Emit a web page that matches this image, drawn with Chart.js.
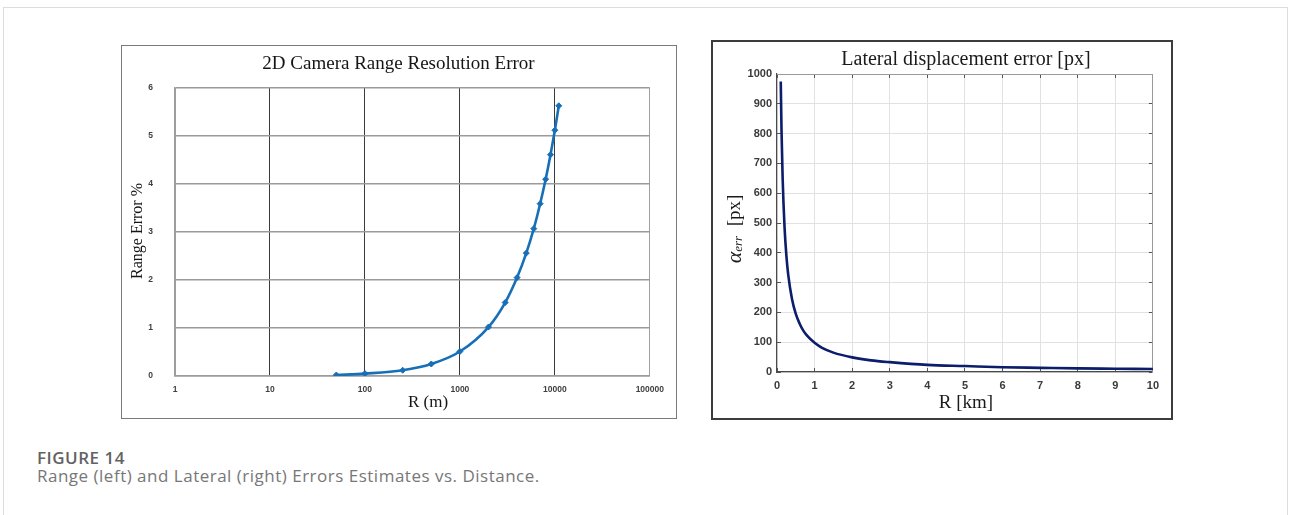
<!DOCTYPE html>
<html>
<head>
<meta charset="utf-8">
<title>Figure 14</title>
<script src="https://cdn.jsdelivr.net/npm/chart.js@4.4.1/dist/chart.umd.min.js"></script>
<style>
  body { margin: 0; background: #fff; }
  #page { position: relative; width: 1290px; height: 515px; overflow: hidden; background: #fff; }
  #frame { position: absolute; left: 3px; top: 7px; width: 1283px; height: 560px; border: 1px solid #dcdcdc; }
  .panel { position: absolute; box-sizing: border-box; background: #fff; }
  #left-panel { left: 121px; top: 45px; width: 556px; height: 374px; border: 1.5px solid #7a7a7a; }
  #right-panel { left: 711px; top: 40px; width: 462px; height: 380px; border: 2px solid #3c3c3c; }
  canvas { position: absolute; }
  #range-chart { left: 124px; top: 48px; }
  #lateral-chart { left: 714px; top: 43px; }
  .caption { position: absolute; left: 37px; font-family: "Open Sans", sans-serif; font-size: 17px; letter-spacing: 0.5px; line-height: 18px; white-space: nowrap; }
  #fig-no { top: 449px; font-weight: 600; color: #626262; }
  #fig-text { top: 467px; color: #777; }
</style>
</head>
<body>
<div id="page">
  <div id="frame"></div>
  <div class="panel" id="left-panel"></div>
  <div class="panel" id="right-panel"></div>
  <canvas id="range-chart" width="549" height="368" style="width:549px;height:368px"></canvas>
  <canvas id="lateral-chart" width="456" height="374" style="width:456px;height:374px"></canvas>
  <div class="caption" id="fig-no">FIGURE 14</div>
  <div class="caption" id="fig-text">Range (left) and Lateral (right) Errors Estimates vs. Distance.</div>
</div>

<script>
// Range error vs distance (log distance axis, metres)
const rangeDistances = [50, 100, 250, 500, 1000, 2000, 3000, 4000, 5000, 6000, 7000, 8000, 9000, 10000, 11000];
const rangeErrors = [0.02, 0.05, 0.12, 0.25, 0.51, 1.02, 1.53, 2.05, 2.56, 3.07, 3.59, 4.10, 4.61, 5.12, 5.63];
const rangeXTicks = [1, 10, 100, 1000, 10000, 100000];
const rangeYTicks = [0, 1, 2, 3, 4, 5, 6];

// Lateral displacement error vs distance (km)
const lateralDistances = [0.1, 0.12, 0.15, 0.2, 0.25, 0.3, 0.4, 0.5, 0.6, 0.7, 0.8, 1, 1.2, 1.5, 2, 2.5, 3, 4, 5, 6, 7, 8, 9, 10];
const lateralErrors = [975, 812, 650, 488, 390, 325, 244, 195, 163, 139, 122, 98, 81, 65, 49, 39, 33, 24, 20, 16, 14, 12, 11, 10];
const lateralXTicks = [0, 1, 2, 3, 4, 5, 6, 7, 8, 9, 10];
const lateralYTicks = [0, 100, 200, 300, 400, 500, 600, 700, 800, 900, 1000];

const serif = "'Liberation Serif', 'Times New Roman', serif";

// draws titles / axis titles; parts let a label mix fonts (subscripts)
const panelText = {
  id: "panelText",
  afterDraw(chart, args, opts) {
    const ctx = chart.ctx;
    (opts.items || []).forEach(item => {
      ctx.save();
      ctx.translate(item.x, item.y);
      if (item.rotate) ctx.rotate(item.rotate);
      ctx.fillStyle = item.color || "#111";
      ctx.textBaseline = "middle";
      ctx.textAlign = "left";
      const parts = item.parts || [{ text: item.text }];
      let total = 0;
      parts.forEach(p => {
        ctx.font = p.font || item.font;
        total += ctx.measureText(p.text).width;
      });
      let x = -total / 2;
      parts.forEach(p => {
        ctx.font = p.font || item.font;
        ctx.fillText(p.text, x, p.dy || 0);
        x += ctx.measureText(p.text).width;
      });
      ctx.restore();
    });
  }
};

function fixedTicks(values) {
  return scale => { scale.ticks = values.map(v => ({ value: v })); };
}

// Left: 2D camera range resolution error
new Chart(document.getElementById("range-chart"), {
  type: "line",
  plugins: [panelText],
  data: {
    datasets: [{
      data: rangeDistances.map((r, i) => ({ x: r, y: rangeErrors[i] })),
      borderColor: "#176fb8",
      backgroundColor: "#176fb8",
      borderWidth: 2.6,
      pointStyle: "rectRot",
      pointRadius: 3,
      pointBorderWidth: 1,
      cubicInterpolationMode: "monotone"
    }]
  },
  options: {
    responsive: false,
    animation: false,
    devicePixelRatio: 1,
    layout: { padding: { top: 40, right: 23, left: 0, bottom: 0 } },
    plugins: {
      legend: { display: false },
      tooltip: { enabled: false },
      panelText: {
        items: [
          { text: "2D Camera Range Resolution Error", x: 274.5, y: 16, font: "19px " + serif, color: "#151515" },
          { text: "Range Error %", x: 14, y: 183, rotate: -Math.PI / 2, font: "16px " + serif, color: "#151515" },
          { text: "R (m)", x: 304, y: 355, font: "17px " + serif, color: "#151515" }
        ]
      }
    },
    scales: {
      x: {
        type: "logarithmic",
        min: 1,
        max: 100000,
        afterBuildTicks: fixedTicks(rangeXTicks),
        afterFit: s => { s.height = 40; },
        ticks: {
          autoSkip: false,
          maxRotation: 0,
          padding: 9,
          color: "#404040",
          font: { family: "'Liberation Sans', sans-serif", size: 8.5, weight: "bold" },
          callback: v => String(v)
        },
        grid: {
          drawTicks: false,
          lineWidth: 1,
          color: c => (c.tick && (c.tick.value === 1 || c.tick.value === 100000)) ? "#a0a0a0" : "#3a3a3a"
        },
        border: { color: "#9c9c9c", width: 1.5 }
      },
      y: {
        min: 0,
        max: 6,
        afterBuildTicks: fixedTicks(rangeYTicks),
        afterFit: s => { s.width = 51; },
        ticks: {
          padding: 22,
          color: "#404040",
          font: { family: "'Liberation Sans', sans-serif", size: 8.5, weight: "bold" }
        },
        grid: { drawTicks: false, lineWidth: 1.6, color: "#9a9a9a" },
        border: { color: "#9c9c9c", width: 1.5 }
      }
    }
  }
});

// Right: lateral displacement error
const tickFont = { family: "'Liberation Sans', Arial, sans-serif", size: 11, weight: "bold" };

new Chart(document.getElementById("lateral-chart"), {
  type: "line",
  plugins: [panelText],
  data: {
    datasets: [{
      xAxisID: "x",
      yAxisID: "y",
      data: lateralDistances.map((r, i) => ({ x: r, y: lateralErrors[i] })),
      borderColor: "#0c1d6c",
      borderWidth: 2.6,
      pointRadius: 0,
      cubicInterpolationMode: "monotone"
    }]
  },
  options: {
    responsive: false,
    animation: false,
    devicePixelRatio: 1,
    layout: { padding: { top: 31, right: 15, left: 0, bottom: 0 } },
    plugins: {
      legend: { display: false },
      tooltip: { enabled: false },
      panelText: {
        items: [
          { text: "Lateral displacement error [px]", x: 252, y: 17, font: "20px " + serif, color: "#1a1a1a" },
          {
            x: 21, y: 186, rotate: -Math.PI / 2, color: "#1a1a1a",
            parts: [
              { text: "α", font: "italic 22px " + serif },
              { text: "err", font: "italic 13px " + serif, dy: 4 },
              { text: "  [px]", font: "19px " + serif }
            ]
          },
          { text: "R [km]", x: 252, y: 360, font: "19px " + serif, color: "#1a1a1a" }
        ]
      }
    },
    scales: {
      x: {
        type: "linear",
        min: 0,
        max: 10,
        afterBuildTicks: fixedTicks(lateralXTicks),
        afterFit: s => { s.height = 45; },
        ticks: { autoSkip: false, maxRotation: 0, padding: 11, color: "#3a3a3a", font: tickFont, callback: v => String(v) },
        grid: { color: "#e1e1e1", lineWidth: 1, tickLength: -4, tickColor: "#555" },
        border: { color: "#4a4a4a", width: 1.2 }
      },
      y: {
        type: "linear",
        min: 0,
        max: 1000,
        afterBuildTicks: fixedTicks(lateralYTicks),
        afterFit: s => { s.width = 63; },
        ticks: { padding: 9, color: "#3a3a3a", font: tickFont, callback: v => String(v) },
        grid: { color: "#e1e1e1", lineWidth: 1, tickLength: -4, tickColor: "#555" },
        border: { color: "#4a4a4a", width: 1.2 }
      },
      xTop: {
        axis: "x",
        type: "linear",
        position: "top",
        min: 0,
        max: 10,
        afterBuildTicks: fixedTicks(lateralXTicks),
        afterFit: s => { s.height = 0; },
        ticks: { display: false },
        grid: { drawOnChartArea: false, tickLength: -4, tickColor: "#555" },
        border: { color: "#9a9a9a", width: 1 }
      },
      yRight: {
        axis: "y",
        type: "linear",
        position: "right",
        min: 0,
        max: 1000,
        afterBuildTicks: fixedTicks(lateralYTicks),
        afterFit: s => { s.width = 0; },
        ticks: { display: false },
        grid: { drawOnChartArea: false, tickLength: -4, tickColor: "#555" },
        border: { color: "#9a9a9a", width: 1 }
      }
    }
  }
});
</script>
</body>
</html>
